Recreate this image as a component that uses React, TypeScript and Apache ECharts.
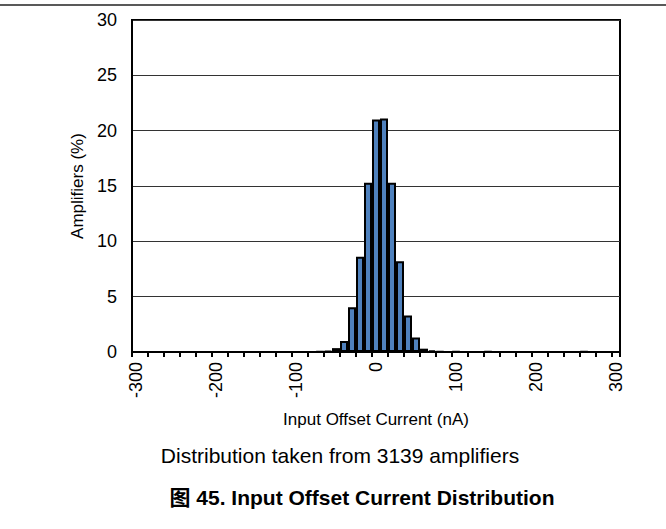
import React, { useEffect, useRef } from "react";
import * as echarts from "echarts";

const categories = [
  "-300", "-290", "-280", "-270", "-260", "-250", "-240", "-230", "-220", "-210",
  "-200", "-190", "-180", "-170", "-160", "-150", "-140", "-130", "-120", "-110",
  "-100", "-90", "-80", "-70", "-60", "-50", "-40", "-30", "-20", "-10",
  "0", "10", "20", "30", "40", "50", "60", "70", "80", "90",
  "100", "110", "120", "130", "140", "150", "160", "170", "180", "190",
  "200", "210", "220", "230", "240", "250", "260", "270", "280", "290",
  "300",
];

const amplifiersPct = [
  0, 0, 0, 0, 0, 0, 0, 0, 0, 0,
  0, 0, 0, 0, 0, 0, 0, 0, 0, 0,
  0, 0, 0, 0.03, 0.1, 0.35, 1.0, 4.05, 8.6, 15.3,
  21.0, 21.1, 15.3, 8.2, 3.3, 1.3, 0.3, 0.15, 0.05, 0,
  0.03, 0, 0, 0, 0.03, 0, 0, 0, 0, 0,
  0, 0, 0, 0, 0, 0, 0.03, 0, 0, 0,
  0,
];

const yTicks = { min: 0, max: 30, interval: 5 };

const xTitle = "Input Offset Current (nA)";
const yTitle = "Amplifiers (%)";
const captionText = "Distribution taken from 3139 amplifiers";
const figureTitle = "图 45. Input Offset Current Distribution";

const FONT = "'Liberation Sans', Arial, 'Noto Sans CJK SC', sans-serif";

export default function App() {
  const ref = useRef<HTMLDivElement>(null);
  useEffect(() => {
    if (!ref.current) return;
    const chart = echarts.init(ref.current, undefined, { renderer: "svg" });
    chart.setOption({
      animation: false,
      backgroundColor: "#ffffff",
      textStyle: { fontFamily: FONT },
      grid: {
        left: 132,
        top: 20,
        width: 488,
        height: 332,
        show: true,
        borderColor: "#000",
        borderWidth: 2,
        backgroundColor: "transparent",
      },
      xAxis: {
        type: "category",
        data: categories,
        boundaryGap: true,
        axisLine: { show: true, lineStyle: { color: "#000", width: 2 } },
        axisTick: {
          show: true,
          interval: 1,
          length: 5,
          inside: false,
          lineStyle: { color: "#000", width: 2 },
        },
        axisLabel: {
          interval: 9,
          rotate: 90,
          fontSize: 18,
          color: "#000",
          margin: 10,
          fontFamily: FONT,
        },
        name: xTitle,
        nameLocation: "middle",
        nameGap: 59,
        nameTextStyle: { fontSize: 17, color: "#000", fontFamily: FONT },
        splitLine: { show: false },
      },
      yAxis: {
        type: "value",
        min: yTicks.min,
        max: yTicks.max,
        interval: yTicks.interval,
        axisLine: { show: true, lineStyle: { color: "#000", width: 2 } },
        axisTick: { show: false },
        axisLabel: { fontSize: 18, color: "#000", margin: 15, fontFamily: FONT },
        splitLine: { show: true, lineStyle: { color: "#333", width: 1 } },
        name: yTitle,
        nameLocation: "middle",
        nameGap: 46,
        nameTextStyle: { fontSize: 17, color: "#000", fontFamily: FONT },
      },
      series: [
        {
          type: "bar",
          data: amplifiersPct,
          barCategoryGap: "0%",
          itemStyle: { color: "#4F81BD", borderColor: "#000", borderWidth: 2 },
        },
      ],
      graphic: [
        {
          type: "line",
          shape: { x1: 0, y1: 5, x2: 666, y2: 5 },
          style: { stroke: "#222", lineWidth: 1.5 },
        },
        {
          type: "text",
          x: 340,
          y: 455,
          style: {
            text: captionText,
            fontSize: 21,
            fontFamily: FONT,
            fill: "#000",
            align: "center",
            verticalAlign: "middle",
            textAlign: "center",
            textVerticalAlign: "middle",
          },
        },
        {
          type: "text",
          x: 362,
          y: 497,
          style: {
            text: figureTitle,
            fontSize: 21,
            fontWeight: "bold",
            fontFamily: FONT,
            fill: "#000",
            align: "center",
            verticalAlign: "middle",
            textAlign: "center",
            textVerticalAlign: "middle",
          },
        },
      ],
    });
    return () => chart.dispose();
  }, []);
  return (
    <div
      ref={ref}
      style={{ position: "fixed", left: 0, top: 0, width: 666, height: 529 }}
    />
  );
}
